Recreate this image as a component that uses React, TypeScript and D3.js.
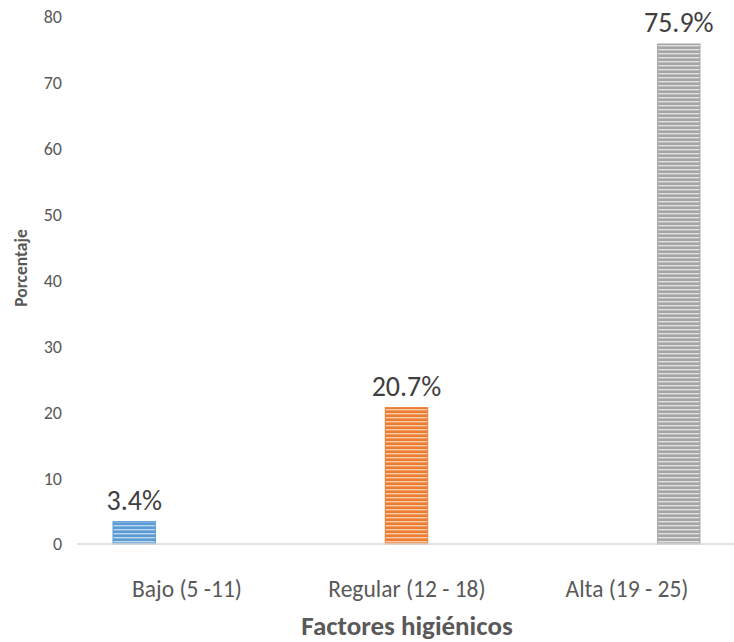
import React from "react";
import * as d3 from "d3";

const categories = ["Bajo (5 -11)", "Regular (12 - 18)", "Alta (19 - 25)"];
const seriesNames = ["Bajo", "Regular", "Alta"];
const values = [3.4, 20.7, 75.9];
const yTicks = [0, 10, 20, 30, 40, 50, 60, 70, 80];
const baseColors = ["#5B9BD5", "#ED7D31", "#A5A5A5"];
const lightColors = ["#BDD7EE", "#F8CBAD", "#E2E2E2"];

const W = 734;
const H = 642;
const font = "Carlito, Lato, 'Liberation Sans', sans-serif";
const textColor = "#595959";

export default function App() {
  const plotLeft = 77;
  const plotRight = 737;
  const y0 = 544;
  const yTop = 17;

  const x0 = d3.scaleBand<string>().domain(categories).range([plotLeft, plotRight]).paddingInner(0).paddingOuter(0);
  const x1 = d3.scaleBand<string>().domain(seriesNames).range([36, 183]).paddingInner(0.19).paddingOuter(0);
  const y = d3.scaleLinear().domain([0, 80]).range([y0, yTop]);

  return (
    <svg width={W} height={H} style={{ position: "absolute", left: 0, top: 0, display: "block", background: "#fff" }}>
      <defs>
        {seriesNames.map((s, i) => (
          <pattern key={s} id={`stripe-${i}`} patternUnits="userSpaceOnUse" width={8} height={4}>
            <rect width={8} height={4} fill={baseColors[i]} />
            <rect y={1} width={8} height={1.4} fill={lightColors[i]} />
          </pattern>
        ))}
      </defs>

      {/* y tick labels */}
      {yTicks.map((t) => (
        <text
          key={t}
          x={62}
          y={y(t)}
          dy="0.36em"
          textAnchor="end"
          fontFamily={font}
          fontSize={18}
          fill={textColor}
        >
          {t}
        </text>
      ))}

      {/* y axis title */}
      <text
        transform={`translate(27, 268) rotate(-90)`}
        textAnchor="middle"
        fontFamily={font}
        fontSize={17.5}
        fontWeight="bold"
        fill={textColor}
      >
        Porcentaje
      </text>

      {/* bars: each series has a value only in its own category */}
      {categories.map((c, i) => {
        const s = seriesNames[i];
        const bx = (x0(c) ?? 0) + (x1(s) ?? 0);
        const bw = x1.bandwidth();
        const v = values[i];
        return (
          <g key={c}>
            <rect
              x={bx}
              y={y(v)}
              width={bw}
              height={y(0) - y(v)}
              fill={`url(#stripe-${i})`}
              stroke={baseColors[i]}
              strokeWidth={1}
            />
            <text
              x={bx + bw / 2}
              y={y(v) - 12}
              textAnchor="middle"
              fontFamily={font}
              fontSize={28}
              fill="#404040"
            >
              {`${v}%`}
            </text>
          </g>
        );
      })}

      {/* x axis line */}
      <line x1={plotLeft} x2={plotRight} y1={y0} y2={y0} stroke="#D9D9D9" strokeWidth={1.5} />

      {/* category labels */}
      {categories.map((c) => (
        <text
          key={c}
          x={(x0(c) ?? 0) + x0.bandwidth() / 2}
          y={597}
          textAnchor="middle"
          fontFamily={font}
          fontSize={23.5}
          fill={textColor}
        >
          {c}
        </text>
      ))}

      {/* x axis title */}
      <text
        x={(plotLeft + plotRight) / 2}
        y={635}
        textAnchor="middle"
        fontFamily={font}
        fontSize={27}
        fontWeight="bold"
        fill={textColor}
      >
        Factores higiénicos
      </text>
    </svg>
  );
}
